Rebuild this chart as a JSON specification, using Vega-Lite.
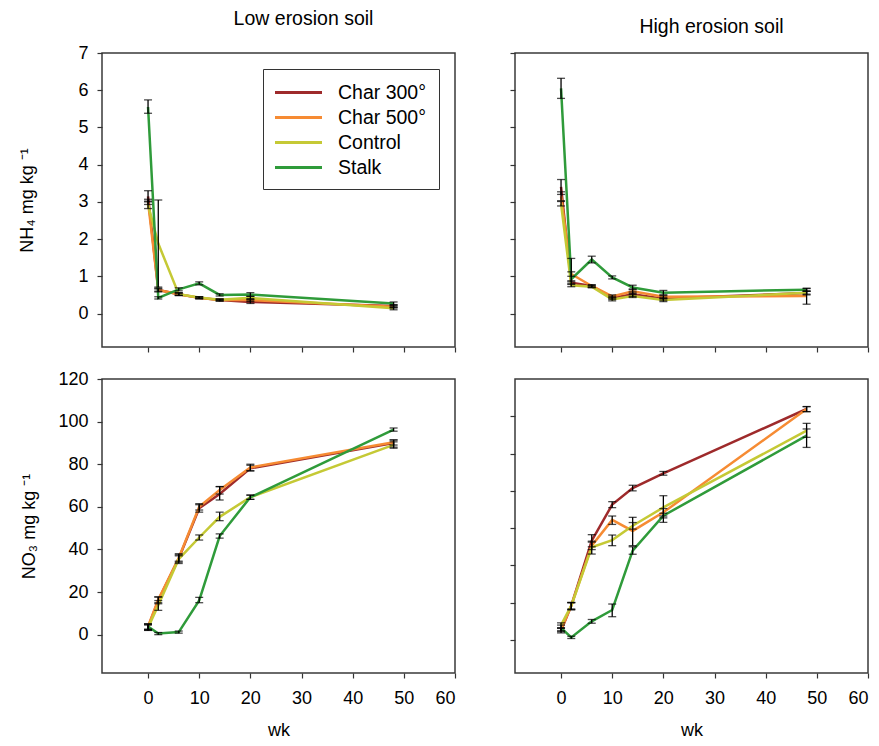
{
  "$schema": "https://vega.github.io/schema/vega-lite/v6.json",
  "padding": {"left": 18, "top": 7, "right": 5, "bottom": 5},
  "background": "white",
  "config": {
    "font": "Liberation Sans",
    "view": {"stroke": "#3a3a3a", "strokeWidth": 1.5},
    "axis": {"grid": false, "domain": false, "tickColor": "#333333", "tickSize": 5, "tickWidth": 1.2, "labelFontSize": 18, "labelColor": "black", "titleFontSize": 18, "titleFontWeight": "normal", "titleColor": "black", "labelFont": "Liberation Sans", "titleFont": "Liberation Sans"},
    "axisX": {"labelPadding": 11, "titlePadding": 14},
    "axisY": {"labelPadding": 9},
    "title": {"fontSize": 19.5, "fontWeight": "normal", "offset": 15, "anchor": "middle", "font": "Liberation Sans", "color": "black"},
    "legend": {"orient": "top-right", "offset": 16, "strokeColor": "#333333", "fillColor": "white", "padding": 12, "symbolType": "M-2.35,0H2.35", "symbolSize": 400, "symbolStrokeWidth": 3, "symbolOffset": 12, "labelFontSize": 19.5, "labelOffset": 28, "rowPadding": 4, "labelColor": "black", "labelFont": "Liberation Sans"}
  },
  "datasets": {
    "nh4_low": [
      {"t": "Char 300°", "wk": 0, "m": 3.15, "lo": 3.0, "hi": 3.3},
      {"t": "Char 300°", "wk": 2, "m": 0.63, "lo": 0.58, "hi": 0.68},
      {"t": "Char 300°", "wk": 6, "m": 0.52, "lo": 0.48, "hi": 0.56},
      {"t": "Char 300°", "wk": 10, "m": 0.42, "lo": 0.39, "hi": 0.45},
      {"t": "Char 300°", "wk": 14, "m": 0.36, "lo": 0.33, "hi": 0.39},
      {"t": "Char 300°", "wk": 20, "m": 0.31, "lo": 0.27, "hi": 0.36},
      {"t": "Char 300°", "wk": 48, "m": 0.2, "lo": 0.16, "hi": 0.24},
      {"t": "Char 500°", "wk": 0, "m": 3.0, "lo": 2.93, "hi": 3.07},
      {"t": "Char 500°", "wk": 2, "m": 0.63, "lo": 0.6, "hi": 0.66},
      {"t": "Char 500°", "wk": 6, "m": 0.52, "lo": 0.49, "hi": 0.55},
      {"t": "Char 500°", "wk": 10, "m": 0.42, "lo": 0.4, "hi": 0.44},
      {"t": "Char 500°", "wk": 14, "m": 0.36, "lo": 0.34, "hi": 0.38},
      {"t": "Char 500°", "wk": 20, "m": 0.36, "lo": 0.32, "hi": 0.4},
      {"t": "Char 500°", "wk": 48, "m": 0.18, "lo": 0.15, "hi": 0.21},
      {"t": "Control", "wk": 0, "m": 2.92, "lo": 2.82, "hi": 3.02},
      {"t": "Control", "wk": 2, "m": 1.88, "lo": 0.71, "hi": 3.05},
      {"t": "Control", "wk": 6, "m": 0.52, "lo": 0.49, "hi": 0.55},
      {"t": "Control", "wk": 10, "m": 0.43, "lo": 0.41, "hi": 0.45},
      {"t": "Control", "wk": 14, "m": 0.37, "lo": 0.35, "hi": 0.39},
      {"t": "Control", "wk": 20, "m": 0.42, "lo": 0.38, "hi": 0.46},
      {"t": "Control", "wk": 48, "m": 0.14, "lo": 0.1, "hi": 0.18},
      {"t": "Stalk", "wk": 0, "m": 5.55, "lo": 5.38, "hi": 5.74},
      {"t": "Stalk", "wk": 2, "m": 0.42, "lo": 0.39, "hi": 0.45},
      {"t": "Stalk", "wk": 6, "m": 0.65, "lo": 0.61, "hi": 0.69},
      {"t": "Stalk", "wk": 10, "m": 0.81, "lo": 0.77, "hi": 0.85},
      {"t": "Stalk", "wk": 14, "m": 0.5, "lo": 0.47, "hi": 0.53},
      {"t": "Stalk", "wk": 20, "m": 0.51, "lo": 0.46, "hi": 0.56},
      {"t": "Stalk", "wk": 48, "m": 0.27, "lo": 0.23, "hi": 0.31}
    ],
    "nh4_high": [
      {"t": "Char 300°", "wk": 0, "m": 3.4, "lo": 3.2, "hi": 3.6},
      {"t": "Char 300°", "wk": 2, "m": 0.83, "lo": 0.78, "hi": 0.88},
      {"t": "Char 300°", "wk": 6, "m": 0.74, "lo": 0.71, "hi": 0.77},
      {"t": "Char 300°", "wk": 10, "m": 0.42, "lo": 0.38, "hi": 0.46},
      {"t": "Char 300°", "wk": 14, "m": 0.52, "lo": 0.46, "hi": 0.58},
      {"t": "Char 300°", "wk": 20, "m": 0.4, "lo": 0.36, "hi": 0.44},
      {"t": "Char 300°", "wk": 48, "m": 0.55, "lo": 0.5, "hi": 0.6},
      {"t": "Char 500°", "wk": 0, "m": 3.15, "lo": 3.03, "hi": 3.27},
      {"t": "Char 500°", "wk": 2, "m": 1.06, "lo": 1.0, "hi": 1.12},
      {"t": "Char 500°", "wk": 6, "m": 0.74, "lo": 0.71, "hi": 0.77},
      {"t": "Char 500°", "wk": 10, "m": 0.46, "lo": 0.42, "hi": 0.5},
      {"t": "Char 500°", "wk": 14, "m": 0.6, "lo": 0.54, "hi": 0.66},
      {"t": "Char 500°", "wk": 20, "m": 0.45, "lo": 0.41, "hi": 0.49},
      {"t": "Char 500°", "wk": 48, "m": 0.47, "lo": 0.25, "hi": 0.67},
      {"t": "Control", "wk": 0, "m": 2.95, "lo": 2.89, "hi": 3.01},
      {"t": "Control", "wk": 2, "m": 0.76, "lo": 0.72, "hi": 0.8},
      {"t": "Control", "wk": 6, "m": 0.72, "lo": 0.69, "hi": 0.75},
      {"t": "Control", "wk": 10, "m": 0.38, "lo": 0.34, "hi": 0.42},
      {"t": "Control", "wk": 14, "m": 0.47, "lo": 0.43, "hi": 0.51},
      {"t": "Control", "wk": 20, "m": 0.36, "lo": 0.32, "hi": 0.4},
      {"t": "Control", "wk": 48, "m": 0.56, "lo": 0.52, "hi": 0.6},
      {"t": "Stalk", "wk": 0, "m": 6.05, "lo": 5.78, "hi": 6.32},
      {"t": "Stalk", "wk": 2, "m": 0.92, "lo": 0.85, "hi": 1.48},
      {"t": "Stalk", "wk": 6, "m": 1.45, "lo": 1.36, "hi": 1.54},
      {"t": "Stalk", "wk": 10, "m": 0.97, "lo": 0.93, "hi": 1.01},
      {"t": "Stalk", "wk": 14, "m": 0.7, "lo": 0.64, "hi": 0.76},
      {"t": "Stalk", "wk": 20, "m": 0.56, "lo": 0.5, "hi": 0.62},
      {"t": "Stalk", "wk": 48, "m": 0.64, "lo": 0.6, "hi": 0.68}
    ],
    "no3_low": [
      {"t": "Char 300°", "wk": 0, "m": 3.5, "lo": 2.0, "hi": 5.0},
      {"t": "Char 300°", "wk": 2, "m": 16.0, "lo": 14.5, "hi": 17.7},
      {"t": "Char 300°", "wk": 6, "m": 35.8, "lo": 34.0, "hi": 38.0},
      {"t": "Char 300°", "wk": 10, "m": 59.3, "lo": 57.5, "hi": 61.0},
      {"t": "Char 300°", "wk": 14, "m": 66.0, "lo": 63.2, "hi": 69.5},
      {"t": "Char 300°", "wk": 20, "m": 78.1, "lo": 76.8, "hi": 79.5},
      {"t": "Char 300°", "wk": 48, "m": 89.9, "lo": 88.0, "hi": 91.4},
      {"t": "Char 500°", "wk": 0, "m": 3.8, "lo": 2.5, "hi": 5.0},
      {"t": "Char 500°", "wk": 2, "m": 16.5, "lo": 15.0, "hi": 17.7},
      {"t": "Char 500°", "wk": 6, "m": 36.0, "lo": 34.5, "hi": 37.5},
      {"t": "Char 500°", "wk": 10, "m": 60.0, "lo": 58.5, "hi": 61.5},
      {"t": "Char 500°", "wk": 14, "m": 67.9, "lo": 66.0, "hi": 69.5},
      {"t": "Char 500°", "wk": 20, "m": 78.5, "lo": 77.0, "hi": 80.0},
      {"t": "Char 500°", "wk": 48, "m": 90.3, "lo": 89.0, "hi": 91.4},
      {"t": "Control", "wk": 0, "m": 3.2, "lo": 2.0, "hi": 4.5},
      {"t": "Control", "wk": 2, "m": 13.8, "lo": 11.4, "hi": 16.0},
      {"t": "Control", "wk": 6, "m": 35.5, "lo": 33.4, "hi": 37.0},
      {"t": "Control", "wk": 10, "m": 45.6, "lo": 44.4, "hi": 46.8},
      {"t": "Control", "wk": 14, "m": 55.3, "lo": 53.5, "hi": 57.5},
      {"t": "Control", "wk": 20, "m": 64.5, "lo": 63.5, "hi": 65.5},
      {"t": "Control", "wk": 48, "m": 89.1, "lo": 87.5, "hi": 90.5},
      {"t": "Stalk", "wk": 0, "m": 3.8, "lo": 2.5, "hi": 5.0},
      {"t": "Stalk", "wk": 2, "m": 0.5, "lo": 0.0, "hi": 1.0},
      {"t": "Stalk", "wk": 6, "m": 1.2, "lo": 0.7, "hi": 1.7},
      {"t": "Stalk", "wk": 10, "m": 16.1, "lo": 15.0, "hi": 17.5},
      {"t": "Stalk", "wk": 14, "m": 46.3, "lo": 45.3, "hi": 47.3},
      {"t": "Stalk", "wk": 20, "m": 64.5, "lo": 63.5, "hi": 65.5},
      {"t": "Stalk", "wk": 48, "m": 96.2, "lo": 95.5, "hi": 97.0}
    ],
    "no3_high": [
      {"t": "Char 300°", "wk": 0, "m": 5.0, "lo": 3.8, "hi": 6.2},
      {"t": "Char 300°", "wk": 2, "m": 18.4, "lo": 16.1, "hi": 20.2},
      {"t": "Char 300°", "wk": 6, "m": 53.3, "lo": 50.0, "hi": 56.5},
      {"t": "Char 300°", "wk": 10, "m": 72.6, "lo": 71.0, "hi": 74.2},
      {"t": "Char 300°", "wk": 14, "m": 81.5, "lo": 80.0, "hi": 83.0},
      {"t": "Char 300°", "wk": 20, "m": 89.4, "lo": 88.4, "hi": 90.4},
      {"t": "Char 300°", "wk": 48, "m": 123.9, "lo": 122.5, "hi": 125.2},
      {"t": "Char 500°", "wk": 0, "m": 5.5, "lo": 4.5, "hi": 6.5},
      {"t": "Char 500°", "wk": 2, "m": 18.4, "lo": 16.5, "hi": 20.0},
      {"t": "Char 500°", "wk": 6, "m": 50.6, "lo": 48.5, "hi": 52.5},
      {"t": "Char 500°", "wk": 10, "m": 64.4, "lo": 62.0, "hi": 66.5},
      {"t": "Char 500°", "wk": 14, "m": 58.5, "lo": 50.6, "hi": 65.8},
      {"t": "Char 500°", "wk": 20, "m": 68.5, "lo": 66.5, "hi": 70.5},
      {"t": "Char 500°", "wk": 48, "m": 123.9, "lo": 122.5, "hi": 125.2},
      {"t": "Control", "wk": 0, "m": 8.0, "lo": 6.5, "hi": 9.2},
      {"t": "Control", "wk": 2, "m": 18.4, "lo": 16.5, "hi": 20.0},
      {"t": "Control", "wk": 6, "m": 49.7, "lo": 46.1, "hi": 53.0},
      {"t": "Control", "wk": 10, "m": 53.6, "lo": 50.6, "hi": 56.3},
      {"t": "Control", "wk": 14, "m": 61.3, "lo": 59.5, "hi": 63.0},
      {"t": "Control", "wk": 20, "m": 71.1, "lo": 63.1, "hi": 77.4},
      {"t": "Control", "wk": 48, "m": 112.3, "lo": 108.7, "hi": 116.2},
      {"t": "Stalk", "wk": 0, "m": 6.5, "lo": 5.0, "hi": 8.0},
      {"t": "Stalk", "wk": 2, "m": 1.4, "lo": 0.8, "hi": 2.0},
      {"t": "Stalk", "wk": 6, "m": 10.0, "lo": 9.0, "hi": 11.0},
      {"t": "Stalk", "wk": 10, "m": 16.1, "lo": 12.5, "hi": 19.3},
      {"t": "Stalk", "wk": 14, "m": 47.9, "lo": 46.0, "hi": 50.0},
      {"t": "Stalk", "wk": 20, "m": 66.7, "lo": 65.5, "hi": 68.0},
      {"t": "Stalk", "wk": 48, "m": 109.6, "lo": 103.3, "hi": 113.2}
    ]
  },
  "resolve": {"scale": {"color": "independent"}},
  "spacing": 15,
  "vconcat": [
    {
      "resolve": {"scale": {"color": "independent"}},
      "spacing": 51,
      "hconcat": [
        {
          "title": {"text": "Low erosion soil", "dx": 25},
          "width": 353, "height": 294,
          "data": {"name": "nh4_low"},
          "layer": [
            {
              "mark": {"type": "line", "strokeWidth": 2.5},
              "encoding": {
                "x": {"field": "wk", "type": "quantitative", "scale": {"domain": [-9, 60], "nice": false, "zero": false}, "axis": {"values": [0, 10, 20, 30, 40, 50, 60], "labels": false, "title": null}},
                "y": {"field": "m", "type": "quantitative", "scale": {"domain": [-0.9, 7], "nice": false, "zero": false}, "axis": {"values": [0, 1, 2, 3, 4, 5, 6, 7], "title": "NH₄ mg kg ⁻¹", "titlePadding": 41}},
                "color": {"field": "t", "type": "nominal", "scale": {"domain": ["Char 300°", "Char 500°", "Control", "Stalk"], "range": ["#9E2A2B", "#F68B33", "#C5C935", "#2F9B3A"]}, "legend": {"title": null}}
              }
            },
            {
              "mark": {"type": "errorbar", "color": "black", "ticks": {"size": 8, "thickness": 1.3}, "rule": {"strokeWidth": 1.3}},
              "encoding": {
                "x": {"field": "wk", "type": "quantitative", "scale": {"domain": [-9, 60], "nice": false, "zero": false}, "axis": {"values": [0, 10, 20, 30, 40, 50, 60], "labels": false, "title": null}},
                "y": {"field": "lo", "type": "quantitative", "scale": {"domain": [-0.9, 7], "nice": false, "zero": false}, "axis": {"values": [0, 1, 2, 3, 4, 5, 6, 7], "title": "NH₄ mg kg ⁻¹", "titlePadding": 41}},
                "y2": {"field": "hi"}
              }
            }
          ]
        },
        {
          "title": {"text": "High erosion soil", "dx": 20},
          "width": 353, "height": 294,
          "data": {"name": "nh4_high"},
          "layer": [
            {
              "mark": {"type": "line", "strokeWidth": 2.5},
              "encoding": {
                "x": {"field": "wk", "type": "quantitative", "scale": {"domain": [-9, 60], "nice": false, "zero": false}, "axis": {"values": [0, 10, 20, 30, 40, 50, 60], "labels": false, "title": null}},
                "y": {"field": "m", "type": "quantitative", "scale": {"domain": [-0.9, 7], "nice": false, "zero": false}, "axis": {"values": [0, 1, 2, 3, 4, 5, 6, 7], "labels": false, "title": null}},
                "color": {"field": "t", "type": "nominal", "scale": {"domain": ["Char 300°", "Char 500°", "Control", "Stalk"], "range": ["#9E2A2B", "#F68B33", "#C5C935", "#2F9B3A"]}, "legend": null}
              }
            },
            {
              "mark": {"type": "errorbar", "color": "black", "ticks": {"size": 8, "thickness": 1.3}, "rule": {"strokeWidth": 1.3}},
              "encoding": {
                "x": {"field": "wk", "type": "quantitative", "scale": {"domain": [-9, 60], "nice": false, "zero": false}, "axis": {"values": [0, 10, 20, 30, 40, 50, 60], "labels": false, "title": null}},
                "y": {"field": "lo", "type": "quantitative", "scale": {"domain": [-0.9, 7], "nice": false, "zero": false}, "axis": {"values": [0, 1, 2, 3, 4, 5, 6, 7], "labels": false, "title": null}},
                "y2": {"field": "hi"}
              }
            }
          ]
        }
      ]
    },
    {
      "resolve": {"scale": {"color": "independent"}},
      "spacing": 51,
      "hconcat": [
        {
          "width": 353, "height": 294,
          "data": {"name": "no3_low"},
          "layer": [
            {
              "mark": {"type": "line", "strokeWidth": 2.5},
              "encoding": {
                "x": {"field": "wk", "type": "quantitative", "scale": {"domain": [-9, 60], "nice": false, "zero": false}, "axis": {"values": [0, 10, 20, 30, 40, 50, 60], "title": "wk"}},
                "y": {"field": "m", "type": "quantitative", "scale": {"domain": [-18, 120], "nice": false, "zero": false}, "axis": {"values": [0, 20, 40, 60, 80, 100, 120], "title": "NO₃ mg kg ⁻¹", "titlePadding": 19}},
                "color": {"field": "t", "type": "nominal", "scale": {"domain": ["Char 300°", "Char 500°", "Control", "Stalk"], "range": ["#9E2A2B", "#F68B33", "#C5C935", "#2F9B3A"]}, "legend": null}
              }
            },
            {
              "mark": {"type": "errorbar", "color": "black", "ticks": {"size": 8, "thickness": 1.3}, "rule": {"strokeWidth": 1.3}},
              "encoding": {
                "x": {"field": "wk", "type": "quantitative", "scale": {"domain": [-9, 60], "nice": false, "zero": false}, "axis": {"values": [0, 10, 20, 30, 40, 50, 60], "title": "wk"}},
                "y": {"field": "lo", "type": "quantitative", "scale": {"domain": [-18, 120], "nice": false, "zero": false}, "axis": {"values": [0, 20, 40, 60, 80, 100, 120], "title": "NO₃ mg kg ⁻¹", "titlePadding": 19}},
                "y2": {"field": "hi"}
              }
            }
          ]
        },
        {
          "width": 353, "height": 294,
          "data": {"name": "no3_high"},
          "layer": [
            {
              "mark": {"type": "line", "strokeWidth": 2.5},
              "encoding": {
                "x": {"field": "wk", "type": "quantitative", "scale": {"domain": [-9, 60], "nice": false, "zero": false}, "axis": {"values": [0, 10, 20, 30, 40, 50, 60], "title": "wk"}},
                "y": {"field": "m", "type": "quantitative", "scale": {"domain": [-17.7, 140], "nice": false, "zero": false}, "axis": {"values": [0, 20, 40, 60, 80, 100, 120], "labels": false, "title": null}},
                "color": {"field": "t", "type": "nominal", "scale": {"domain": ["Char 300°", "Char 500°", "Control", "Stalk"], "range": ["#9E2A2B", "#F68B33", "#C5C935", "#2F9B3A"]}, "legend": null}
              }
            },
            {
              "mark": {"type": "errorbar", "color": "black", "ticks": {"size": 8, "thickness": 1.3}, "rule": {"strokeWidth": 1.3}},
              "encoding": {
                "x": {"field": "wk", "type": "quantitative", "scale": {"domain": [-9, 60], "nice": false, "zero": false}, "axis": {"values": [0, 10, 20, 30, 40, 50, 60], "title": "wk"}},
                "y": {"field": "lo", "type": "quantitative", "scale": {"domain": [-17.7, 140], "nice": false, "zero": false}, "axis": {"values": [0, 20, 40, 60, 80, 100, 120], "labels": false, "title": null}},
                "y2": {"field": "hi"}
              }
            }
          ]
        }
      ]
    }
  ]
}
